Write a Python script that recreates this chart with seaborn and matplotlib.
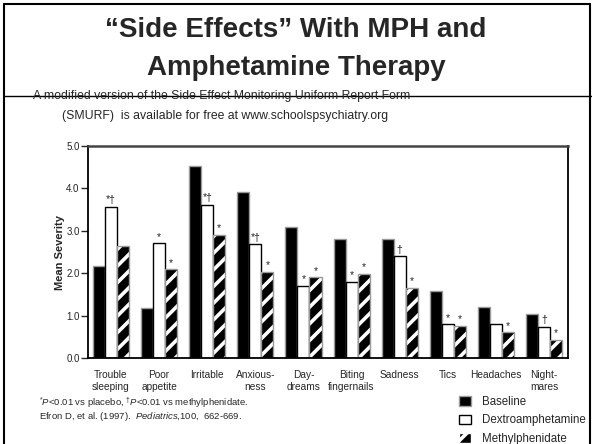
#import
import numpy as np
import pandas as pd
import matplotlib
matplotlib.use('Agg')
import matplotlib.pyplot as plt
from matplotlib import font_manager
from matplotlib.patches import Patch, Rectangle
from matplotlib.lines import Line2D
import seaborn as sns


#data
categories = ['Trouble\nsleeping', 'Poor\nappetite', 'Irritable', 'Anxious-\nness', 'Day-\ndreams',
              'Biting\nfingernails', 'Sadness', 'Tics', 'Headaches', 'Night-\nmares']
baseline = [2.16, 1.17, 4.53, 3.91, 3.09, 2.81, 2.81, 1.59, 1.20, 1.04]
dex = [3.57, 2.71, 3.62, 2.68, 1.71, 1.80, 2.40, 0.80, 0.80, 0.74]
mph = [2.65, 2.10, 2.91, 2.03, 1.91, 1.99, 1.66, 0.76, 0.61, 0.43]
dex_marks = ['*\u2020', '*', '*\u2020', '*\u2020', '*', '*', '\u2020', '*', '', '\u2020']
mph_marks = ['', '*', '*', '*', '*', '*', '*', '*', '*', '*']
series = ['Baseline', 'Dextroamphetamine', 'Methylphenidate']
yticks = [0.0, 1.0, 2.0, 3.0, 4.0, 5.0]


#fonts
sns.set_style('white')
names = {f.name for f in font_manager.fontManager.ttflist}
narrow = 'Liberation Sans Narrow' if 'Liberation Sans Narrow' in names else 'Liberation Sans'
plt.rcParams['font.family'] = ['Liberation Sans', 'DejaVu Sans']
plt.rcParams['mathtext.fontset'] = 'custom'
plt.rcParams['mathtext.rm'] = 'Liberation Sans'
plt.rcParams['mathtext.it'] = 'Liberation Sans:italic'
plt.rcParams['hatch.linewidth'] = 2.6

#long table for seaborn
df = pd.DataFrame({
    'effect': categories * 3,
    'series': np.repeat(series, len(categories)),
    'value': baseline + dex + mph,
})

fig = plt.figure(figsize=(5.92, 4.44), dpi=100)
ax = fig.add_axes([0.1486, 0.1937, 0.8109, 0.4773])

sns.barplot(data=df, x='effect', y='value', hue='series', order=categories, hue_order=series,
            palette=['black', 'white', 'black'], width=0.75, errorbar=None, legend=False,
            saturation=1, ax=ax)

#style bars per series
for bar in ax.containers[0]:
    bar.set_edgecolor('#9a9a9a')
    bar.set_linewidth(1.0)
for bar in ax.containers[1]:
    bar.set_edgecolor('black')
    bar.set_linewidth(1.0)
for bar in ax.containers[2]:
    bar.set_hatch('//')
    bar.set_edgecolor('white')
    bar.set_linewidth(0)
    ax.add_patch(Rectangle(bar.get_xy(), bar.get_width(), bar.get_height(),
                           fill=False, edgecolor='#9a9a9a', linewidth=1.0))

#significance marks
for marks, cont in [(dex_marks, ax.containers[1]), (mph_marks, ax.containers[2])]:
    for m, bar in zip(marks, cont):
        if m:
            ax.annotate(m, (bar.get_x() + bar.get_width() / 2, bar.get_height()),
                        xytext=(0, 1), textcoords='offset points', ha='center', va='bottom',
                        fontsize=7.5)

ax.set_xlim(-0.48, 9.5)
ax.set_ylim(0, 5.0)
ax.set_yticks(yticks)
ax.set_yticklabels([f'{t:.1f}' for t in yticks], fontsize=7)
ax.tick_params(axis='y', direction='out', length=5, width=1, left=True, pad=1)
ax.tick_params(axis='x', length=0, labelsize=7.3, pad=9)
ax.set_xlabel('')
ax.set_ylabel('Mean Severity', fontsize=8, fontweight='bold', labelpad=1)
for s in ax.spines.values():
    s.set_visible(True)
    s.set_color('black')
    s.set_linewidth(1.3)
ax.spines['top'].set_color('#444444')
ax.spines['top'].set_linewidth(1.8)

#page frame
fig.add_artist(Line2D([0.006, 0.006], [0, 0.992], color='black', lw=1.5))
fig.add_artist(Line2D([0.006, 0.997], [0.992, 0.992], color='black', lw=1.5))
fig.add_artist(Line2D([0.997, 0.997], [0, 0.992], color='black', lw=1.5))
fig.add_artist(Line2D([0.006, 1.0], [0.784, 0.784], color='black', lw=1.0))

#title and notes
fig.text(0.5, 0.932, '\u201cSide Effects\u201d With MPH and', ha='center', va='center',
         fontsize=20, fontweight='bold', family=[narrow, 'DejaVu Sans'])
fig.text(0.5, 0.847, 'Amphetamine Therapy', ha='center', va='center',
         fontsize=20, fontweight='bold', family=[narrow, 'DejaVu Sans'])
fig.text(0.056, 0.784, 'A modified version of the Side Effect Monitoring Uniform Report Form',
         ha='left', va='center', fontsize=8.8)
fig.text(0.105, 0.738, '(SMURF)  is available for free at www.schoolspsychiatry.org',
         ha='left', va='center', fontsize=8.8)
fig.text(0.066, 0.093, r'$^{*}$$\it{P}$<0.01 vs placebo, $^{\dagger}$$\it{P}$<0.01 vs methylphenidate.',
         ha='left', va='center', fontsize=6.8)
fig.text(0.066, 0.062, r'Efron D, et al. (1997).  $\it{Pediatrics}$,$\it{100}$,  662-669.',
         ha='left', va='center', fontsize=6.8)

#legend
handles = [Patch(facecolor='black', edgecolor='#9a9a9a'),
           Patch(facecolor='white', edgecolor='black'),
           Patch(facecolor='black', edgecolor='white', hatch='//')]
fig.legend(handles, series, loc='upper left', bbox_to_anchor=(0.775, 0.108), frameon=False,
           fontsize=8.3, handlelength=1.1, handleheight=0.9, handletextpad=0.9, labelspacing=0.55,
           borderpad=0, borderaxespad=0)

fig.savefig('out.png', dpi=100)
